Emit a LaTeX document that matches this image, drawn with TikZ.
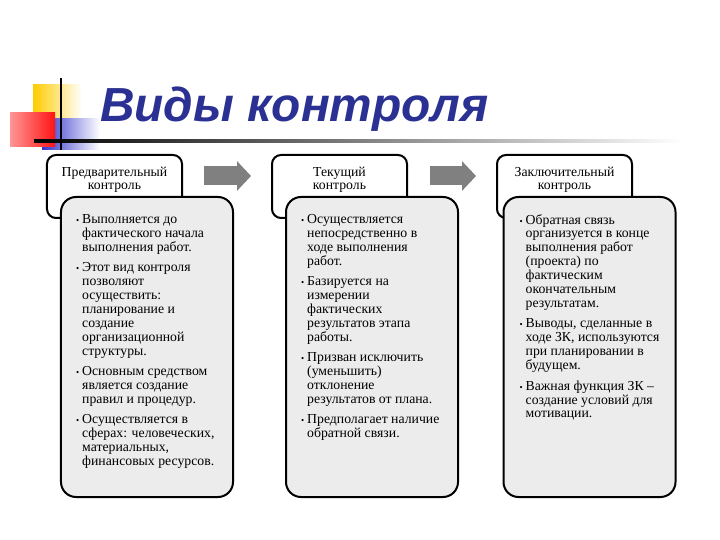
\documentclass[tikz,border=0pt]{standalone}
\usepackage{fontspec}
\setmainfont{Liberation Serif}
\newfontfamily\titlefont{Liberation Sans}
\usetikzlibrary{positioning,calc,arrows.meta}
\definecolor{titleblue}{RGB}{43,49,146}
\definecolor{bodygray}{RGB}{236,236,236}
\definecolor{arrowgray}{RGB}{128,128,128}
\definecolor{decoyellow}{RGB}{255,204,0}
\definecolor{decored}{RGB}{255,20,20}
\definecolor{decoblue}{RGB}{51,51,204}
\tikzset{
  hdrbox/.style={rectangle, draw, line width=2bp, rounded corners=9bp,
                 fill=white, minimum width=135bp, minimum height=63bp},
  bodybox/.style={rectangle, draw, line width=2bp, rounded corners=15bp,
                  fill=bodygray, minimum width=172bp, minimum height=300bp},
  hdrtext/.style={align=center, inner sep=0pt, font=\fontsize{13.8}{13.5}\selectfont},
  items/.style={align=left, inner sep=0pt, anchor=north west,
                font=\fontsize{13.8}{14}\selectfont},
  blockarrow/.style={line width=19bp, arrowgray, -{Triangle[length=14bp, width=29bp]}}
}
\newcommand{\bul}{\llap{{\small\textbullet}\hspace{3bp}}}
\begin{document}
\begin{tikzpicture}[x=1bp, y=-1bp]
    \fill[white] (0,0) rectangle (720,540);
    \useasboundingbox (0,0) rectangle (720,540);

    % Corner decoration
    \shade[left color=decoyellow, middle color=decoyellow, right color=white] (33,85) rectangle (82,120);
    \shade[left color=decoblue, middle color=decoblue, right color=white] (42,119) rectangle (100,150);
    \shade[left color=decored!45, right color=decored] (10,113) rectangle (55,147);
    \shade[left color=black, right color=white] (34,139.5) rectangle (683,142.5);
    \fill[black] (60,78) rectangle (62,150);

    % Title
    \node[anchor=base west, inner sep=0pt, text=titleblue,
          font=\titlefont\bfseries\itshape\fontsize{48}{48}\selectfont] (title) at (100,122) {Виды контроля};

    % Columns
    \foreach \i/\hx/\bx/\name in {1/114.5/147/Предварительный,2/339.5/372/Текущий,3/564.5/589.5/Заключительный} {
        \node[hdrbox] (hdr\i) at (\hx,186.5) {};
        \node[hdrtext, below=12.5bp of hdr\i.north] (htxt\i) {\name\\контроль};
        \node[bodybox] (body\i) at (\bx,347) {};
    }

    % Arrows between stages
    \draw[blockarrow] ($(hdr1.north east)+(21,22)$) -- ($(hdr2.north west)+(-20,22)$);
    \draw[blockarrow] ($(hdr2.north east)+(22,22)$) -- ($(hdr3.north west)+(-20,22)$);

    % Item lists
    \node[items] (list1) at ($(body1.north west)+(22,18)$) {%
        \bul Выполняется до\\фактического начала\\выполнения работ.\\[6.3bp]
        \bul Этот вид контроля\\позволяют\\осуществить:\\планирование и\\создание\\организационной\\структуры.\\[6.3bp]
        \bul Основным средством\\является создание\\правил и процедур.\\[6.3bp]
        \bul Осуществляется в\\сферах: человеческих,\\материальных,\\финансовых ресурсов.};
    \node[items] (list2) at ($(body2.north west)+(22,18)$) {%
        \bul Осуществляется\\непосредственно в\\ходе выполнения\\работ.\\[6.3bp]
        \bul Базируется на\\измерении\\фактических\\результатов этапа\\работы.\\[6.3bp]
        \bul Призван исключить\\(уменьшить)\\отклонение\\результатов от плана.\\[6.3bp]
        \bul Предполагает наличие\\обратной связи.};
    \node[items] (list3) at ($(body3.north west)+(23,18)$) {%
        \bul Обратная связь\\организуется в конце\\выполнения работ\\(проекта) по\\фактическим\\окончательным\\результатам.\\[6.3bp]
        \bul Выводы, сделанные в\\ходе ЗК, используются\\при планировании в\\будущем.\\[6.3bp]
        \bul Важная функция ЗК –\\создание условий для\\мотивации.};
\end{tikzpicture}
\end{document}
